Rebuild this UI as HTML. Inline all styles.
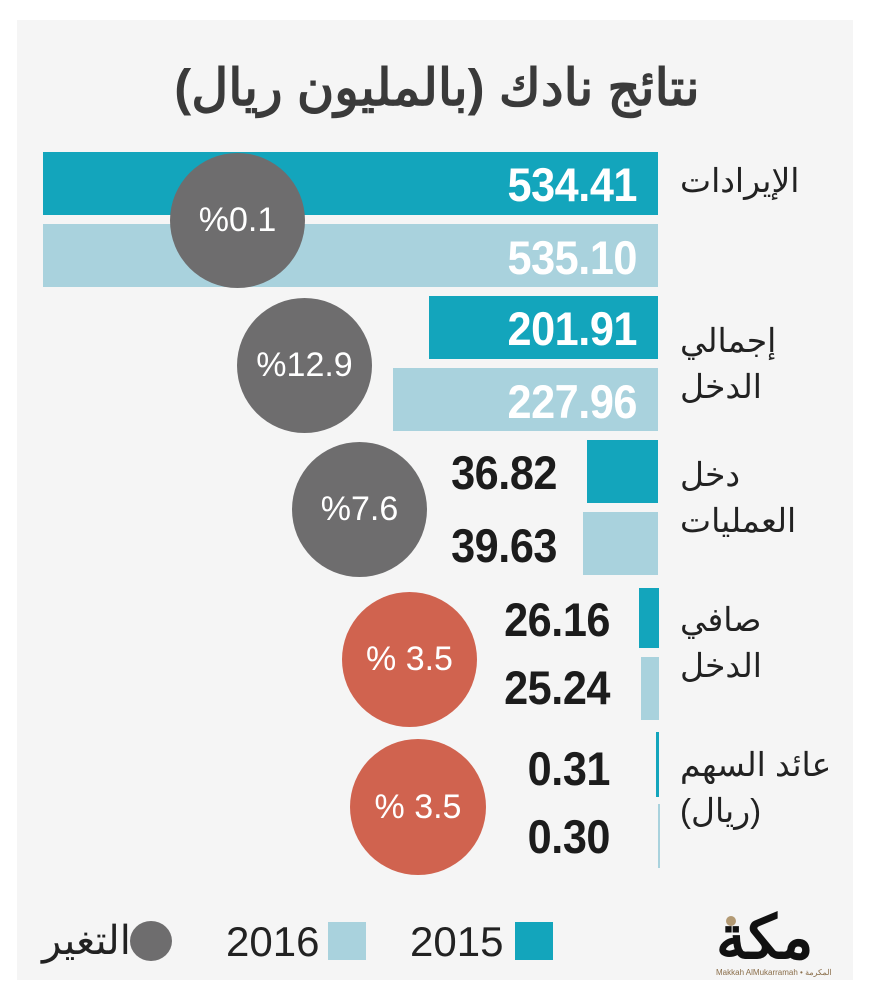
<!DOCTYPE html>
<html><head><meta charset="utf-8"><style>
body{margin:0;width:874px;height:1000px;background:#fff;position:relative;overflow:hidden;font-family:"Liberation Sans","Noto Sans CJK SC",sans-serif}
.p{position:absolute;left:17px;top:20px;width:836px;height:960px;background:#f5f5f5}
.a{position:absolute}
.d{background:#13a5bc}.l{background:#a9d2dd}
.n{position:absolute;font-weight:bold;font-size:47px;line-height:47px;text-align:right;width:300px;transform:scaleX(0.92);transform-origin:right center;letter-spacing:-0.5px}
.w{color:#fff}.k{color:#1c1c1c}
.c{position:absolute;border-radius:50%;color:#fff;font-size:34px;display:flex;align-items:center;justify-content:center;font-weight:normal}
.g{background:#6e6d6e}.r{background:#d0634f}
.lb{position:absolute;left:680px;direction:rtl;font-size:33px;line-height:46px;color:#222;text-align:left;width:140px}
</style></head><body>
<div class="p"></div>
<div class="a" style="left:0;width:874px;top:58px;text-align:center;font-size:51px;font-weight:bold;color:#3a3a3a;direction:rtl">نتائج نادك (بالمليون ريال)</div>

<div class="a d" style="left:43px;top:152px;width:615px;height:63px"></div>
<div class="a l" style="left:43px;top:224px;width:615px;height:63px"></div>
<div class="n w" style="left:337px;top:161px">534.41</div>
<div class="n w" style="left:337px;top:234px">535.10</div>
<div class="c g" style="left:170px;top:153px;width:135px;height:135px">%0.1</div>
<div class="lb" style="top:158px">الإيرادات</div>

<div class="a d" style="left:429px;top:296px;width:229px;height:63px"></div>
<div class="a l" style="left:393px;top:368px;width:265px;height:63px"></div>
<div class="n w" style="left:337px;top:305px">201.91</div>
<div class="n w" style="left:337px;top:378px">227.96</div>
<div class="c g" style="left:237px;top:298px;width:135px;height:135px">%12.9</div>
<div class="lb" style="top:318px">إجمالي<br>الدخل</div>

<div class="a d" style="left:587px;top:440px;width:71px;height:63px"></div>
<div class="a l" style="left:583px;top:512px;width:75px;height:63px"></div>
<div class="n k" style="left:257px;top:449px">36.82</div>
<div class="n k" style="left:257px;top:522px">39.63</div>
<div class="c g" style="left:292px;top:442px;width:135px;height:135px">%7.6</div>
<div class="lb" style="top:452px">دخل<br>العمليات</div>

<div class="a d" style="left:639px;top:588px;width:20px;height:60px"></div>
<div class="a l" style="left:641px;top:657px;width:18px;height:63px"></div>
<div class="n k" style="left:310px;top:596px">26.16</div>
<div class="n k" style="left:310px;top:664px">25.24</div>
<div class="c r" style="left:342px;top:592px;width:135px;height:135px">% 3.5</div>
<div class="lb" style="top:597px">صافي<br>الدخل</div>

<div class="a d" style="left:656px;top:732px;width:3px;height:65px"></div>
<div class="a l" style="left:658px;top:804px;width:2px;height:64px"></div>
<div class="n k" style="left:310px;top:745px">0.31</div>
<div class="n k" style="left:310px;top:813px">0.30</div>
<div class="c r" style="left:350px;top:739px;width:136px;height:136px">% 3.5</div>
<div class="lb" style="top:742px;width:160px">عائد السهم<br>(ريال)</div>

<div class="a d" style="left:515px;top:922px;width:38px;height:38px"></div>
<div class="a" style="left:410px;top:918px;font-size:42px;color:#222">2015</div>
<div class="a l" style="left:328px;top:922px;width:38px;height:38px"></div>
<div class="a" style="left:226px;top:918px;font-size:42px;color:#222">2016</div>
<div class="a" style="left:130px;top:921px;width:42px;height:40px;border-radius:50%;background:#6e6d6e"></div>
<div class="a" style="left:42px;top:918px;font-size:40px;color:#222;direction:rtl">التغير</div>

<div class="a" style="left:726px;top:916px;width:10px;height:10px;border-radius:50%;background:#b39a74"></div>
<div class="a" style="left:716px;top:905px;font-size:60px;font-weight:bold;color:#111;direction:rtl;line-height:66px">مكة</div>
<div class="a" style="left:716px;top:968px;font-size:8px;color:#8a6e4a">Makkah AlMukarramah • المكرمة</div>
</body></html>
